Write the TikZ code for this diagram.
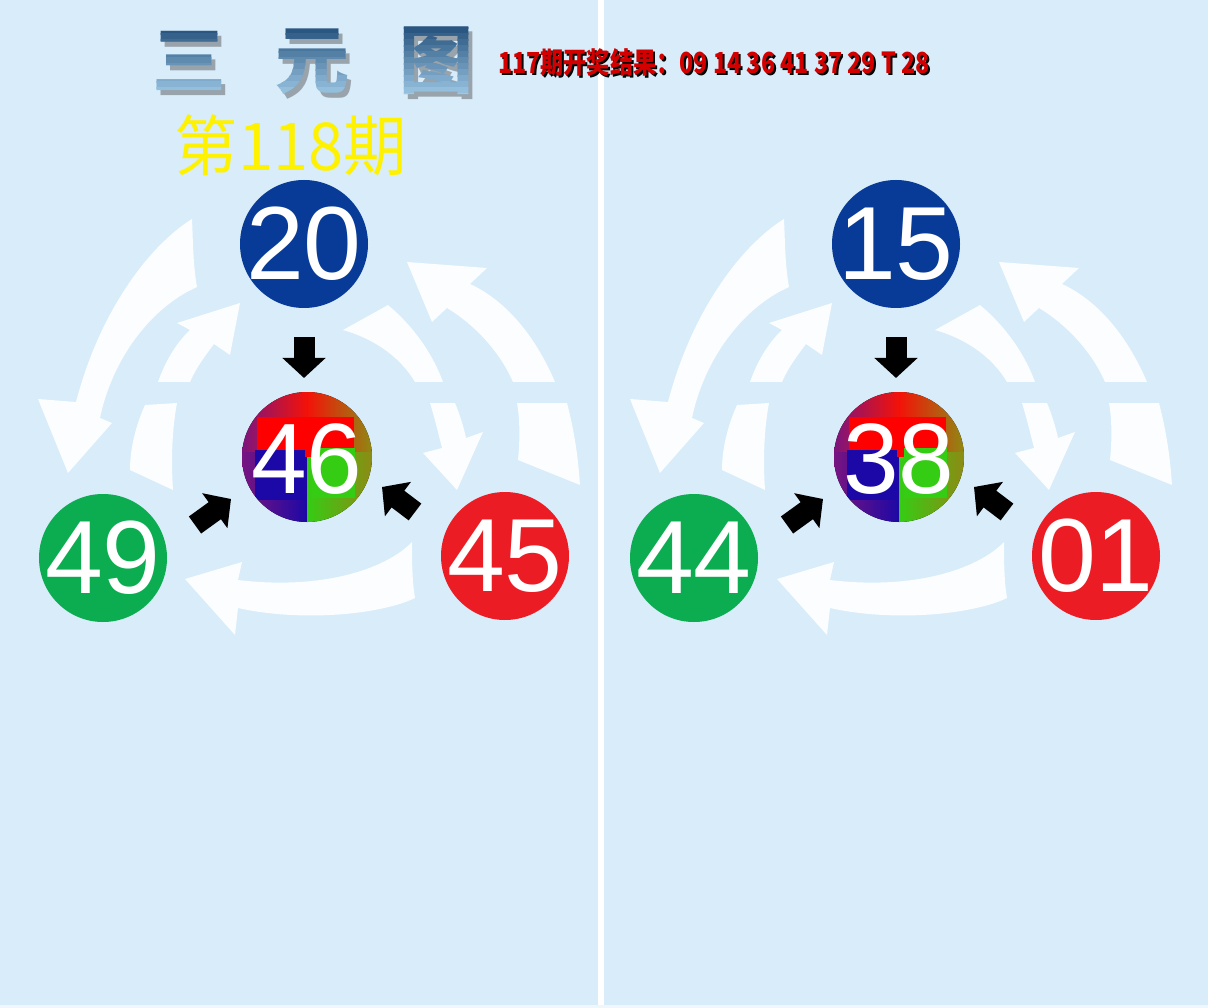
\documentclass[tikz,border=0pt]{standalone}
\usepackage{fontspec}
\setmainfont{Liberation Sans}
\newfontfamily\cjk{Noto Sans CJK SC}
\usetikzlibrary{arrows.meta}
\definecolor{bg}{HTML}{D8ECFA}
\definecolor{cblue}{HTML}{073B97}
\definecolor{cgreen}{HTML}{0BAD50}
\definecolor{cred}{HTML}{EC1C24}
\definecolor{tdark}{HTML}{1F4C78}
\definecolor{tlight}{HTML}{A8D2EE}
\definecolor{mred}{HTML}{F41208}
\definecolor{mpurp}{HTML}{7A1480}
\definecolor{mblue}{HTML}{1C08A6}
\definecolor{mgreen}{HTML}{35CC14}
\definecolor{molive}{HTML}{8E8A14}
\definecolor{hred}{HTML}{D40000}
\tikzset{
  warr/.style={fill=white, opacity=0.9},
  ball/.style={circle, minimum size=128pt, inner sep=-20pt, text=white,
    font=\fontsize{104}{104}\selectfont},
  mixball/.style={circle, minimum size=130pt, inner sep=-20pt, text=white,
    font=\fontsize{100}{100}\selectfont},
  blk/.style={line width=21pt, black, -{Triangle[width=42pt,length=20pt]}},
  ttl/.style={font=\cjk\bfseries\fontsize{74}{74}\selectfont, inner sep=0pt},
  hdrfont/.style={anchor=west, font=\cjk\bfseries\fontsize{29}{29}\selectfont, inner sep=0pt},
}
\newcommand\whitearrows{%
  \fill[warr] (192,219) .. controls (150,245) and (100,310) .. (76,402) -- (38,399) -- (68,473) -- (112,423) -- (100,418) .. controls (112,360) and (150,308) .. (197,287) .. controls (193,265) and (193,240) .. (192,219) -- cycle;
  \fill[warr] (158,382) .. controls (165,362) and (176,343) .. (190,330) -- (177,323) -- (240,303) -- (230,355) -- (214,344) .. controls (205,356) and (196,368) .. (190,382) -- cycle;
  \fill[warr] (145,405) -- (177,403) .. controls (172,430) and (171,460) .. (173,490) -- (130,470) .. controls (130,448) and (136,425) .. (145,405) -- cycle;
  \fill[warr] (555,382) .. controls (535,335) and (505,300) .. (470,284) -- (487,268) -- (407,262) -- (432,322) -- (447,308) .. controls (475,325) and (500,352) .. (513,382) -- cycle;
  \fill[warr] (517,403) -- (567,403) .. controls (574,430) and (578,455) .. (580,485) -- (518,460) .. controls (520,440) and (520,420) .. (517,403) -- cycle;
  \fill[warr] (343,330) -- (388,305) .. controls (412,325) and (432,352) .. (443,382) -- (415,382) .. controls (402,360) and (378,340) .. (343,330) -- cycle;
  \fill[warr] (430,403) -- (455,403) .. controls (460,415) and (464,428) .. (466,438) -- (483,432) -- (457,490) -- (423,453) -- (442,448) .. controls (438,432) and (434,416) .. (430,403) -- cycle;
  \fill[warr] (412,542) .. controls (385,570) and (320,590) .. (238,580) -- (242,562) -- (185,579) -- (235,635) -- (238,608) .. controls (300,622) and (380,615) .. (415,598) .. controls (412,580) and (412,560) .. (412,542) -- cycle;
}
\newcommand\mixfill{%
  \clip (0,0) circle (65pt);
  \fill[left color=mpurp, right color=molive, middle color=mred] (-66,-66) rectangle (66,-4);
  \fill[left color=mpurp, right color=mblue] (-66,-5) rectangle (0.5,66);
  \fill[left color=mgreen, right color=molive] (0,-5) rectangle (66,66);
  \fill[red] (-50,-40) rectangle (47,0);
  \fill[mblue] (-52,-7) rectangle (-2,43);
  \fill[mgreen] (5,-9) rectangle (48,41);
}
\begin{document}
\begin{tikzpicture}[x=1pt,y=-1pt]
\useasboundingbox (0,0) rectangle (1208,1008);
\fill[bg] (0,0) rectangle (1208,1008);
\fill[white] (598,0) rectangle (604,1008);
\fill[white!60!bg] (0,1005) rectangle (1208,1008);

% white cyclic arrows
\begin{scope}\whitearrows\end{scope}
\begin{scope}[xshift=592pt]\whitearrows\end{scope}

% mixed centre discs
\begin{scope}[shift={(307,457)}]\mixfill\end{scope}
\begin{scope}[shift={(899,457)}]\mixfill\end{scope}

% left panel nodes
\node[ball, fill=cblue] (a20) at (304,244) {20};
\node[ball, fill=cgreen] (a49) at (103,558) {49};
\node[ball, fill=cred] (a45) at (505,556) {45};
\node[mixball] (a46) at (307,459) {46};

% right panel nodes
\node[ball, fill=cblue] (b15) at (896,244) {15};
\node[ball, fill=cgreen] (b44) at (694,558) {44};
\node[ball, fill=cred] (b01) at (1096,556) {01};
\node[mixball] (b38) at (899,459) {38};

% black arrows, left
\coordinate (at1) at (304,337); \coordinate (ah1) at (304,378);
\coordinate (at2) at (195,525); \coordinate (ah2) at (231,499);
\coordinate (at3) at (415,512); \coordinate (ah3) at (382,487);
\draw[blk] (at1) -- (ah1);
\draw[blk] (at2) -- (ah2);
\draw[blk] (at3) -- (ah3);
% black arrows, right
\coordinate (bt1) at (896,337); \coordinate (bh1) at (896,378);
\coordinate (bt2) at (787,525); \coordinate (bh2) at (823,499);
\coordinate (bt3) at (1007,512); \coordinate (bh3) at (974,487);
\draw[blk] (bt1) -- (bh1);
\draw[blk] (bt2) -- (bh2);
\draw[blk] (bt3) -- (bh3);

% title with vertical gradient
\node[ttl, text=black!70, opacity=0.45] (titleshadow) at (317,66) {三\hspace{50pt}元\hspace{50pt}图};
\foreach \k in {0,...,13} {
  \pgfmathtruncatemacro\pc{100-\k*100/13}
  \begin{scope}
    \clip (140,{22+\k*6}) rectangle (490,{28.6+\k*6});
    \node[ttl, text=tdark!\pc!tlight] (title\k) at (313,61) {三\hspace{50pt}元\hspace{50pt}图};
  \end{scope}
}

% issue number
\node[font=\cjk\fontsize{66}{66}\selectfont, text=yellow, inner sep=0pt] (issue) at (291,145) {\scalebox{0.96}[1]{第118期}};

% header result line
\node[hdrfont, text=black] (hdrshadow) at (500,64) {\scalebox{0.8}[1]{117期开奖结果：09 14 36 41 37 29 T 28}};
\node[hdrfont, text=hred] (hdr) at (498,62) {\scalebox{0.8}[1]{117期开奖结果：09 14 36 41 37 29 T 28}};
\end{tikzpicture}
\end{document}
